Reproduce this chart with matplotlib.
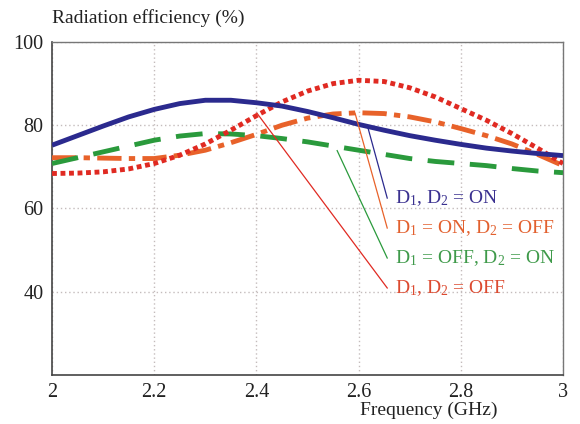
import numpy as np
import matplotlib
matplotlib.use('Agg')
import matplotlib.pyplot as plt

plt.rcParams['font.family'] = ['Liberation Serif', 'DejaVu Serif']
plt.rcParams['mathtext.fontset'] = 'custom'
plt.rcParams['mathtext.rm'] = 'Liberation Serif'
plt.rcParams['mathtext.it'] = 'Liberation Serif:italic'

freq = [2.0, 2.05, 2.1, 2.15, 2.2, 2.25, 2.3, 2.35, 2.4, 2.45, 2.5,
        2.55, 2.6, 2.65, 2.7, 2.75, 2.8, 2.85, 2.9, 2.95, 3.0]

on_on = [75.2, 77.5, 79.8, 82.0, 83.8, 85.2, 86.0, 86.0, 85.4, 84.6, 83.3,
         81.8, 80.2, 78.8, 77.5, 76.4, 75.4, 74.5, 73.8, 73.2, 72.7]
on_off = [72.2, 72.2, 72.1, 72.0, 72.0, 72.8, 74.0, 75.8, 77.8, 80.0, 81.7,
          82.7, 83.0, 82.8, 82.0, 80.8, 79.2, 77.5, 75.5, 73.0, 70.3]
off_on = [70.8, 72.2, 73.6, 75.0, 76.4, 77.4, 78.0, 77.9, 77.5, 76.8, 76.0,
          75.0, 74.0, 73.0, 72.0, 71.3, 70.8, 70.3, 69.6, 69.0, 68.6]
off_off = [68.4, 68.5, 68.8, 69.5, 70.8, 72.8, 75.5, 78.8, 82.3, 85.6, 88.2,
           90.0, 90.8, 90.5, 89.0, 86.8, 84.0, 81.2, 78.0, 74.5, 70.8]

labels = ['D$_1$, D$_2$ = ON', 'D$_1$ = ON, D$_2$ = OFF',
          'D$_1$ = OFF, D$_2$ = ON', 'D$_1$, D$_2$ = OFF']
# (point on curve, label anchor) for the pointer lines
arrow_from = [(2.618, 79.5), (2.593, 82.9), (2.558, 73.9), (2.401, 82.9)]
arrow_to = [(2.656, 62.5), (2.656, 55.3), (2.656, 48.1), (2.656, 40.9)]

line_colors = ['#2b2a8e', '#e8622a', '#2a9a3c', '#e02a22']
text_colors = ['#3b3190', '#e2602e', '#3f9a4a', '#dc4a30']

fig = plt.figure(figsize=(5.8, 4.24), dpi=100)
ax = fig.add_axes([0.0897, 0.1156, 0.881, 0.7854])

lw = 3.5
ax.plot(freq, on_on, color=line_colors[0], lw=lw, solid_capstyle='butt', zorder=4)
ax.plot(freq, on_off, color=line_colors[1], lw=lw, dashes=(5, 1.5, 1.3, 1.5),
        dash_capstyle='butt', zorder=3)
ax.plot(freq, off_on, color=line_colors[2], lw=lw, dashes=(5.5, 3.2),
        dash_capstyle='butt', zorder=3)
ax.plot(freq, off_off, color=line_colors[3], lw=lw, dashes=(1, 0.75),
        dash_capstyle='butt', zorder=3)

for lab, p0, p1, lc, tc in zip(labels, arrow_from, arrow_to, line_colors, text_colors):
    ax.plot([p0[0], p1[0]], [p0[1], p1[1]], color=lc, lw=0.9, zorder=5)
    ax.text(p1[0] + 0.016, p1[1], lab, color=tc, fontsize=14,
            ha='left', va='center', zorder=6)

ax.set_xlim(2, 3)
ax.set_ylim(20, 100)
ax.set_xticks([2, 2.2, 2.4, 2.6, 2.8, 3])
ax.set_xticklabels(['2', '2.2', '2.4', '2.6', '2.8', '3'])
ax.set_yticks([40, 60, 80, 100])
ax.tick_params(length=0, labelsize=14.5, colors='#222222')
ax.tick_params(axis='x', pad=6)
ax.tick_params(axis='y', pad=6)
ax.grid(True, ls=(0, (1, 2)), color='#c4bcbc', lw=1.0)

for side in ['left', 'bottom']:
    ax.spines[side].set_color('#444444')
    ax.spines[side].set_linewidth(1.2)
for side in ['top', 'right']:
    ax.spines[side].set_color('#777777')
    ax.spines[side].set_linewidth(1.0)

fig.text(0.09, 0.958, 'Radiation efficiency (%)', fontsize=14,
         ha='left', va='center', color='#222222')
fig.text(0.740, 0.033, 'Frequency (GHz)', fontsize=14,
         ha='center', va='center', color='#222222')

fig.savefig('out.png', dpi=100)
